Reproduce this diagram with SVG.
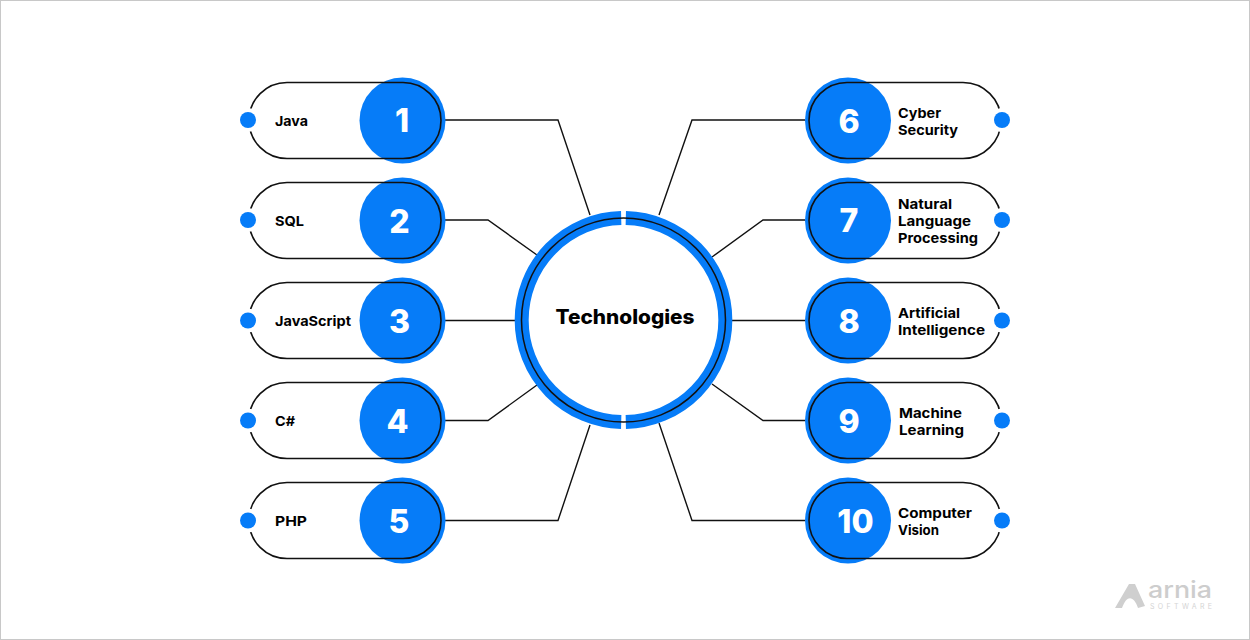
<svg xmlns="http://www.w3.org/2000/svg" width="1250" height="640" viewBox="0 0 1250 640">
<style>
.pill{fill:none;stroke:#111;stroke-width:1.6}
.disc{fill:#067cf8}
.halo{fill:#fff}
.dot{fill:#067cf8}
.num{font-family:Inter,"Liberation Sans",sans-serif;font-weight:800;font-size:32px;fill:#fff;text-anchor:middle}
.lab{font-family:Inter,"Liberation Sans",sans-serif;font-weight:700;font-size:13.5px;fill:#000}
.con{fill:none;stroke:#111;stroke-width:1.4}
.ring{fill:none;stroke:#067cf8;stroke-width:14}
</style>
<rect x="0.5" y="0.5" width="1249" height="639" fill="#fff" stroke="#c8c8c8"/>
<g id="connectors" class="con">
<path d="M445 120H558L590 215"/>
<path d="M445 220H488L537 255"/>
<path d="M445 320.500H515"/>
<path d="M445 420.500H488L537 385"/>
<path d="M445 520.500H558L590 425"/>
<path d="M805 120H692L659 215"/>
<path d="M805 220H763L712 257"/>
<path d="M732 320.500H805"/>
<path d="M805 420.500H763L712 384"/>
<path d="M805 520.500H692L659 423"/>
</g>
<g id="hub">
<path class="ring" d="M621.200 218.030A102 102 0 0 0 621.200 421.970"/>
<path class="ring" d="M625.800 218.030A102 102 0 0 1 625.800 421.970"/>
<circle cx="623.500" cy="320" r="102" fill="none" stroke="#111" stroke-width="1.5"/>
<text x="625" y="323.500" text-anchor="middle" font-family="Inter,'Liberation Sans',sans-serif" font-weight="800" font-size="20px" fill="#000" textLength="139" lengthAdjust="spacingAndGlyphs">Technologies</text>
</g>
<g id="node1"><circle class="disc" cx="402.500" cy="120.500" r="43"/><rect class="pill" x="249" y="82.500" width="192" height="76" rx="38"/><circle class="halo" cx="248" cy="120" r="12"/><circle class="dot" cx="248" cy="120" r="8"/><text class="num" x="402" y="132">1</text><text class="lab" x="275" y="126" textLength="33" lengthAdjust="spacingAndGlyphs">Java</text></g>
<g id="node2"><circle class="disc" cx="402.500" cy="220.500" r="43"/><rect class="pill" x="249" y="182.500" width="192" height="76" rx="38"/><circle class="halo" cx="248" cy="220" r="12"/><circle class="dot" cx="248" cy="220" r="8"/><text class="num" x="399.500" y="232.500">2</text><text class="lab" x="275" y="226" textLength="29" lengthAdjust="spacingAndGlyphs">SQL</text></g>
<g id="node3"><circle class="disc" cx="402.500" cy="320.500" r="43"/><rect class="pill" x="249" y="282.500" width="192" height="76" rx="38"/><circle class="halo" cx="248" cy="320.500" r="12"/><circle class="dot" cx="248" cy="320.500" r="8"/><text class="num" x="399.500" y="332.500">3</text><text class="lab" x="275" y="326" textLength="76" lengthAdjust="spacingAndGlyphs">JavaScript</text></g>
<g id="node4"><circle class="disc" cx="402.500" cy="420.500" r="43"/><rect class="pill" x="249" y="382.500" width="192" height="76" rx="38"/><circle class="halo" cx="248" cy="420.500" r="12"/><circle class="dot" cx="248" cy="420.500" r="8"/><text class="num" x="397.500" y="432.500">4</text><text class="lab" x="275" y="426" textLength="20" lengthAdjust="spacingAndGlyphs">C#</text></g>
<g id="node5"><circle class="disc" cx="402.500" cy="520.500" r="43"/><rect class="pill" x="249" y="482.500" width="192" height="76" rx="38"/><circle class="halo" cx="248" cy="520.500" r="12"/><circle class="dot" cx="248" cy="520.500" r="8"/><text class="num" x="399" y="533">5</text><text class="lab" x="275" y="526" textLength="32" lengthAdjust="spacingAndGlyphs">PHP</text></g>
<g id="node6"><circle class="disc" cx="848" cy="120.500" r="43"/><rect class="pill" x="809" y="82.500" width="192" height="76" rx="38"/><circle class="halo" cx="1002" cy="120" r="12"/><circle class="dot" cx="1002" cy="120" r="8"/><text class="num" x="849" y="132.500">6</text><text class="lab" x="898" y="117.500" textLength="43" lengthAdjust="spacingAndGlyphs">Cyber</text><text class="lab" x="898" y="134.500" textLength="60" lengthAdjust="spacingAndGlyphs">Security</text></g>
<g id="node7"><circle class="disc" cx="848" cy="220.500" r="43"/><rect class="pill" x="809" y="182.500" width="192" height="76" rx="38"/><circle class="halo" cx="1002" cy="220" r="12"/><circle class="dot" cx="1002" cy="220" r="8"/><text class="num" x="849" y="232">7</text><text class="lab" x="898" y="209" textLength="54" lengthAdjust="spacingAndGlyphs">Natural</text><text class="lab" x="898" y="226" textLength="73" lengthAdjust="spacingAndGlyphs">Language</text><text class="lab" x="898" y="243" textLength="80" lengthAdjust="spacingAndGlyphs">Processing</text></g>
<g id="node8"><circle class="disc" cx="848" cy="320.500" r="43"/><rect class="pill" x="809" y="282.500" width="192" height="76" rx="38"/><circle class="halo" cx="1002" cy="320.500" r="12"/><circle class="dot" cx="1002" cy="320.500" r="8"/><text class="num" x="849" y="332.500">8</text><text class="lab" x="898" y="317.500" textLength="62" lengthAdjust="spacingAndGlyphs">Artificial</text><text class="lab" x="898" y="334.500" textLength="87" lengthAdjust="spacingAndGlyphs">Intelligence</text></g>
<g id="node9"><circle class="disc" cx="848" cy="420.500" r="43"/><rect class="pill" x="809" y="382.500" width="192" height="76" rx="38"/><circle class="halo" cx="1002" cy="420.500" r="12"/><circle class="dot" cx="1002" cy="420.500" r="8"/><text class="num" x="849" y="432.500">9</text><text class="lab" x="899" y="418" textLength="63" lengthAdjust="spacingAndGlyphs">Machine</text><text class="lab" x="899" y="435" textLength="65" lengthAdjust="spacingAndGlyphs">Learning</text></g>
<g id="node10"><circle class="disc" cx="848" cy="520.500" r="43"/><rect class="pill" x="809" y="482.500" width="192" height="76" rx="38"/><circle class="halo" cx="1002" cy="520.500" r="12"/><circle class="dot" cx="1002" cy="520.500" r="8"/><text class="num" x="855.500" y="533">10</text><text class="lab" x="898" y="518" textLength="74" lengthAdjust="spacingAndGlyphs">Computer</text><text class="lab" x="898" y="535" textLength="41" lengthAdjust="spacingAndGlyphs">Vision</text></g>
<g id="logo">
<path d="M1115 608L1129 584L1135 584L1145 606L1138 608C1134 596 1127 594 1122 608Z" fill="#cfcfcf"/>
<text x="1148" y="598" font-family="Inter,'Liberation Sans',sans-serif" font-weight="500" font-size="23px" fill="#cdcdcd" textLength="64" lengthAdjust="spacingAndGlyphs">arnia</text>
<text x="1150" y="608.500" font-family="Inter,'Liberation Sans',sans-serif" font-size="7px" fill="#d4d4d4" textLength="62">SOFTWARE</text>
</g>
</svg>
